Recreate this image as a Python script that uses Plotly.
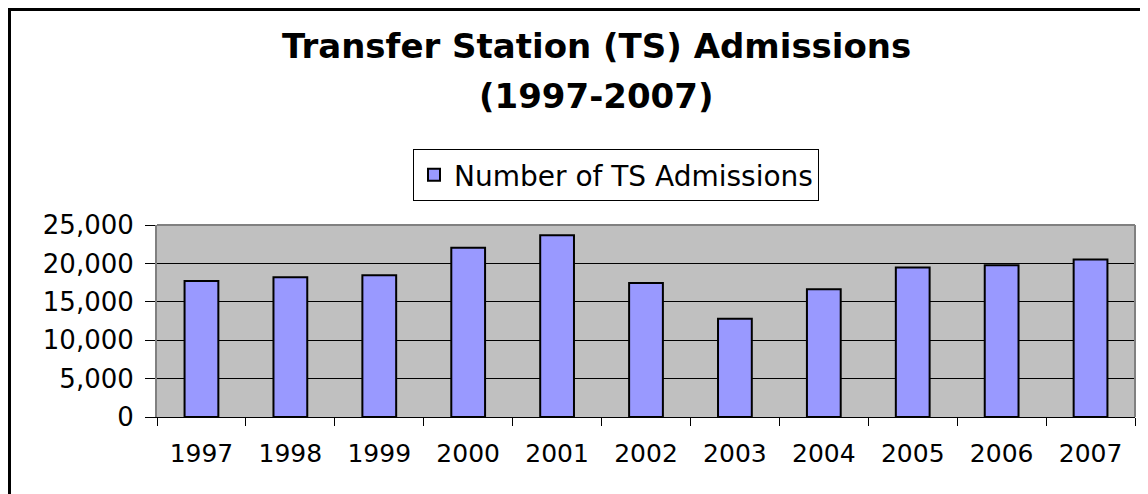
import plotly.graph_objects as go

years = ["1997", "1998", "1999", "2000", "2001", "2002", "2003", "2004", "2005", "2006", "2007"]
admissions = [17700, 18200, 18450, 22050, 23650, 17450, 12780, 16650, 19450, 19750, 20500]
series_name = "Number of TS Admissions"
title_line1 = "Transfer Station (TS) Admissions"
title_line2 = "(1997-2007)"
y_ticks = [0, 5000, 10000, 15000, 20000, 25000]

# page body has an 8px margin, so the figure is drawn at (8, 8)
OFF = 8
W, H = 1148 - OFF, 494 - OFF
L, R, T, B = 157 - OFF, 13, 225 - OFF, 77
pw = W - L - R
ph = H - T - B

def px2x(px):
    return (px - OFF - L) / pw

def py2y(py):
    return (H - B - (py - OFF)) / ph

FONT = "DejaVu Sans"

fig = go.Figure()
fig.add_trace(go.Bar(
    x=years, y=admissions, name=series_name,
    marker=dict(color="#9999FF", line=dict(color="black", width=2)),
    showlegend=True,
))

fig.update_layout(
    width=W, height=H,
    margin=dict(l=L, r=R, t=T, b=B, pad=0),
    paper_bgcolor="white",
    plot_bgcolor="#C0C0C0",
    bargap=0.62,
    font=dict(family=FONT, color="black", size=25),
    showlegend=True,
    legend=dict(
        orientation="h",
        x=px2x(616), xanchor="center",
        y=py2y(175), yanchor="middle",
        bgcolor="white", bordercolor="black", borderwidth=1,
        font=dict(family=FONT, size=28, color="black"),
        itemsizing="constant",
    ),
    xaxis=dict(
        type="category",
        showline=True, linecolor="black", linewidth=1,
        ticks="outside", tickson="boundaries", ticklen=8, tickcolor="black",
        showgrid=False,
        tickfont=dict(family=FONT, size=25, color="black"),
        ticklabelstandoff=14,
    ),
    yaxis=dict(
        range=[0, 25000],
        tickvals=y_ticks,
        tickformat=",",
        showline=True, linecolor="#808080", linewidth=2,
        ticks="outside", ticklen=10, tickcolor="black",
        showgrid=True, gridcolor="black", gridwidth=1,
        zeroline=False,
        tickfont=dict(family=FONT, size=26, color="black"),
        ticklabelstandoff=6,
    ),
    shapes=[
        # plot area border (grey top/right)
        dict(type="line", xref="paper", yref="paper", x0=0, x1=1, y0=1, y1=1,
             line=dict(color="#808080", width=2)),
        dict(type="line", xref="paper", yref="paper", x0=1, x1=1, y0=0, y1=1,
             line=dict(color="#808080", width=2)),
        # outer chart frame (left and top visible)
        dict(type="line", xref="paper", yref="paper", x0=px2x(9.5), x1=px2x(9.5),
             y0=py2y(8), y1=py2y(520), line=dict(color="black", width=3)),
        dict(type="line", xref="paper", yref="paper", x0=px2x(8), x1=px2x(1200),
             y0=py2y(9.5), y1=py2y(9.5), line=dict(color="black", width=3)),
    ],
    annotations=[
        dict(text="<b>" + title_line1 + "</b>", xref="paper", yref="paper",
             x=px2x(596), y=py2y(46), xanchor="center", yanchor="middle",
             showarrow=False, font=dict(family=FONT, size=34, color="black")),
        dict(text="<b>" + title_line2 + "</b>", xref="paper", yref="paper",
             x=px2x(596), y=py2y(96), xanchor="center", yanchor="middle",
             showarrow=False, font=dict(family=FONT, size=34, color="black")),
    ],
)

fig.write_html("out.html")
